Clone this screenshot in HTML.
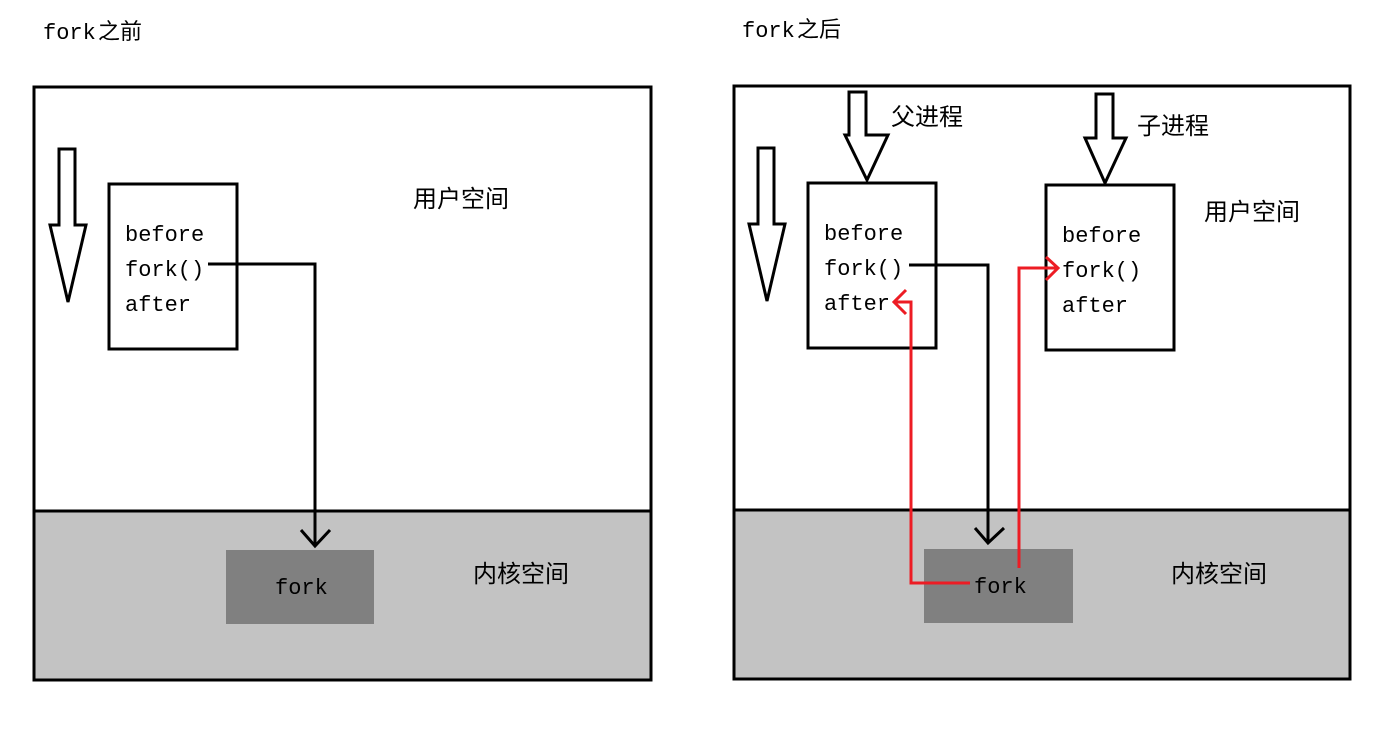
<!DOCTYPE html>
<html><head><meta charset="utf-8"><style>
body{margin:0;background:#fff;}
svg text{font-family:"Liberation Mono","Noto Sans CJK SC",monospace;}
.c{font-family:"Liberation Sans","Noto Sans CJK SC",sans-serif;font-size:24px;}
.m{font-size:22px;}
</style></head><body>
<svg width="1392" height="725" viewBox="0 0 1392 725" xmlns="http://www.w3.org/2000/svg">
<rect width="1392" height="725" fill="#fff"/>
<text x="43" y="39" class="m">fork</text><text x="98" y="39" class="c" style="font-size:22px">之前</text>
<text x="742" y="37" class="m">fork</text><text x="797" y="37" class="c" style="font-size:22px">之后</text>

<!-- left panel -->
<rect x="33" y="511" width="618" height="169" fill="#c3c3c3"/>
<rect x="34" y="87" width="617" height="593" fill="none" stroke="#000" stroke-width="3"/>
<line x1="34" y1="511" x2="651" y2="511" stroke="#000" stroke-width="3"/>
<polygon points="59,149 75,149 75,225 86,225 68,302 50,225 59,225" fill="#fff" stroke="#000" stroke-width="3"/>
<rect x="109" y="184" width="128" height="165" fill="#fff" stroke="#000" stroke-width="3"/>
<text x="125" y="241" class="m">before</text>
<text x="125" y="276" class="m">fork()</text>
<text x="125" y="311" class="m">after</text>
<polyline points="208,264 315,264 315,546" fill="none" stroke="#000" stroke-width="3"/>
<polyline points="301,530 315,546 330,530" fill="none" stroke="#000" stroke-width="3"/>
<rect x="226" y="550" width="148" height="74" fill="#808080"/>
<text x="275" y="594" class="m">fork</text>
<text x="413" y="207" class="c">用户空间</text>
<text x="473" y="582" class="c">内核空间</text>

<!-- right panel -->
<rect x="733" y="510" width="618" height="169" fill="#c3c3c3"/>
<rect x="734" y="86" width="616" height="593" fill="none" stroke="#000" stroke-width="3"/>
<line x1="734" y1="510" x2="1350" y2="510" stroke="#000" stroke-width="3"/>
<polygon points="758,148 774,148 774,224 785,224 767,301 749,224 758,224" fill="#fff" stroke="#000" stroke-width="3"/>
<polygon points="849,92 866,92 866,135 888,135 867,180 845,135 849,135" fill="#fff" stroke="#000" stroke-width="3"/>
<polygon points="1096,94 1113,94 1113,138 1126,138 1105,183 1085,138 1096,138" fill="#fff" stroke="#000" stroke-width="3"/>
<text x="891" y="125" class="c">父进程</text>
<text x="1137" y="134" class="c">子进程</text>
<rect x="808" y="183" width="128" height="165" fill="#fff" stroke="#000" stroke-width="3"/>
<text x="824" y="240" class="m">before</text>
<text x="824" y="275" class="m">fork()</text>
<text x="824" y="310" class="m">after</text>
<rect x="1046" y="185" width="128" height="165" fill="#fff" stroke="#000" stroke-width="3"/>
<text x="1062" y="242" class="m">before</text>
<text x="1062" y="277" class="m">fork()</text>
<text x="1062" y="312" class="m">after</text>
<polyline points="909,265 988,265 988,543" fill="none" stroke="#000" stroke-width="3"/>
<polyline points="975,528 988,543 1004,528" fill="none" stroke="#000" stroke-width="3"/>
<rect x="924" y="549" width="149" height="74" fill="#808080"/>
<text x="974" y="593" class="m">fork</text>
<text x="1204" y="220" class="c">用户空间</text>
<text x="1171" y="582" class="c">内核空间</text>
<polyline points="970,583 911,583 911,302 896,302" fill="none" stroke="#ed1c24" stroke-width="3"/>
<polyline points="906,290 894,302 906,314" fill="none" stroke="#ed1c24" stroke-width="3"/>
<polyline points="1019,568 1019,268 1058,268" fill="none" stroke="#ed1c24" stroke-width="3"/>
<polyline points="1046,257 1058,268 1046,280" fill="none" stroke="#ed1c24" stroke-width="3"/>
</svg>
</body></html>
